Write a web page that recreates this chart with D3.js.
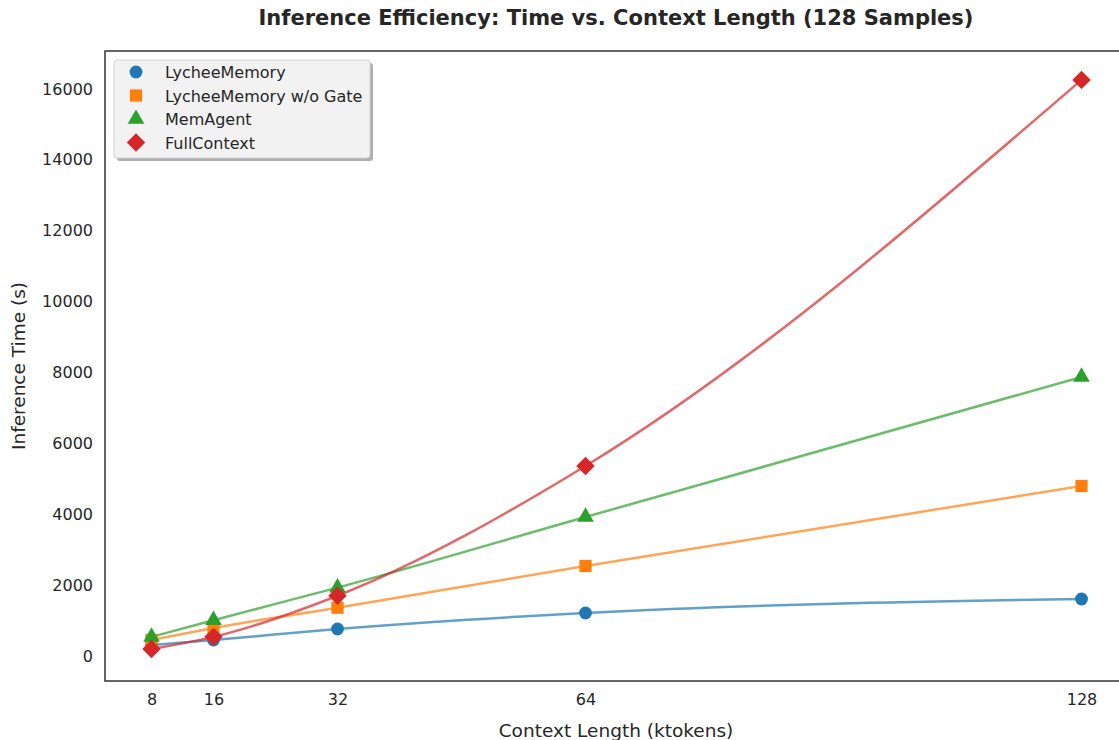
<!DOCTYPE html>
<html>
<head>
<meta charset="utf-8">
<script src="https://cdn.jsdelivr.net/npm/d3@7"></script>
<style>
body{margin:0;background:#fff;}
svg{display:block;font-family:"DejaVu Sans",sans-serif;}
</style>
</head>
<body>
<svg id="chart"></svg>
<script>
var width = 1119, height = 740;

// data
var contextLengths = [8, 16, 32, 64, 128];
var lycheeMemory = [310, 451, 762, 1213, 1608];
var lycheeNoGate = [450, 790, 1363, 2540, 4797];
var memAgent = [540, 1010, 1930, 3923, 7873];
var fullContext = [198, 540, 1700, 5362, 16255];
var yTicks = [0, 2000, 4000, 6000, 8000, 10000, 12000, 14000, 16000];

var series = [
    {name: "LycheeMemory", values: lycheeMemory, color: "#1f77b4", marker: "circle"},
    {name: "LycheeMemory w/o Gate", values: lycheeNoGate, color: "#ff7f0e", marker: "square"},
    {name: "MemAgent", values: memAgent, color: "#2ca02c", marker: "triangle"},
    {name: "FullContext", values: fullContext, color: "#d62728", marker: "diamond"}
];

var margin = {top: 51, left: 105, bottom: 59, right: -9};
var chartWidth = width - margin.left - margin.right;
var chartHeight = height - margin.top - margin.bottom;

var svg = d3.select("#chart").attr("width", width).attr("height", height);

var xScale = d3.scaleLinear().domain([2, 134]).range([0, chartWidth]);
var yScale = d3.scaleLinear().domain([-705, 17070]).range([chartHeight, 0]);

var chartLayer = svg.append("g")
    .attr("transform", "translate(" + [margin.left, margin.top] + ")");

// axes, no tick marks
var xAxis = d3.axisBottom(xScale).tickValues(contextLengths).tickSize(0).tickPadding(13).tickFormat(d3.format("d"));
var yAxis = d3.axisLeft(yScale).tickValues(yTicks).tickSize(0).tickPadding(12).tickFormat(d3.format("d"));

var gx = chartLayer.append("g").attr("transform", "translate(0," + chartHeight + ")").call(xAxis);
var gy = chartLayer.append("g").call(yAxis);
[gx, gy].forEach(function(g){
    g.select(".domain").remove();
    g.selectAll("text").attr("fill", "#262626").style("font-size", "16px").style("font-family", "DejaVu Sans");
});

var symbols = {
    circle: d3.symbol().type(d3.symbolCircle).size(130),
    square: d3.symbol().type(d3.symbolSquare).size(150),
    triangle: d3.symbol().type(d3.symbolTriangle).size(120),
    diamond: d3.symbol().type(d3.symbolSquare).size(170)
};
function markerTransform(kind, x, y){
    return "translate(" + x + "," + y + ")" + (kind === "diamond" ? " rotate(45)" : "");
}

var lineGen = d3.line()
    .x(function(d){ return xScale(d[0]); })
    .y(function(d){ return yScale(d[1]); })
    .curve(d3.curveMonotoneX);

var plot = chartLayer.append("g");
series.forEach(function(s){
    var pts = contextLengths.map(function(c, i){ return [c, s.values[i]]; });
    plot.append("path")
        .attr("d", lineGen(pts))
        .attr("fill", "none")
        .attr("stroke", s.color)
        .attr("stroke-opacity", 0.7)
        .attr("stroke-width", 2.5);
});
series.forEach(function(s){
    plot.selectAll(null)
        .data(contextLengths.map(function(c, i){ return [c, s.values[i]]; }))
        .enter().append("path")
        .attr("d", symbols[s.marker])
        .attr("transform", function(d){ return markerTransform(s.marker, xScale(d[0]), yScale(d[1])); })
        .attr("fill", s.color);
});

// frame
chartLayer.append("rect")
    .attr("width", chartWidth).attr("height", chartHeight)
    .attr("fill", "none").attr("stroke", "#333").attr("stroke-width", 1.5);

// legend
var legend = chartLayer.append("g").attr("transform", "translate(9,9)");
legend.append("rect").attr("x", 3).attr("y", 3).attr("width", 256).attr("height", 98)
    .attr("rx", 3).attr("fill", "#9a9a9a").attr("opacity", 0.8);
legend.append("rect").attr("width", 256).attr("height", 98)
    .attr("rx", 3).attr("fill", "#f2f2f2").attr("stroke", "#d0d0d0").attr("stroke-width", 1);
series.forEach(function(s, i){
    var row = legend.append("g").attr("transform", "translate(0," + (12 + i * 23.5) + ")");
    row.append("path").attr("d", symbols[s.marker])
        .attr("transform", markerTransform(s.marker, 22, 0))
        .attr("fill", s.color);
    row.append("text").attr("x", 51).attr("y", 6)
        .attr("fill", "#262626").style("font-size", "16px").text(s.name);
});

// title and labels
svg.append("text").attr("x", 616).attr("y", 25).attr("text-anchor", "middle")
    .style("font-size", "21px").style("font-weight", "bold").attr("fill", "#262626")
    .text("Inference Efficiency: Time vs. Context Length (128 Samples)");
svg.append("text").attr("x", 616).attr("y", 737).attr("text-anchor", "middle")
    .style("font-size", "18.5px").attr("fill", "#262626")
    .text("Context Length (ktokens)");
svg.append("text").attr("transform", "translate(25,366) rotate(-90)").attr("text-anchor", "middle")
    .style("font-size", "18.5px").attr("fill", "#262626")
    .text("Inference Time (s)");
</script>
</body>
</html>
